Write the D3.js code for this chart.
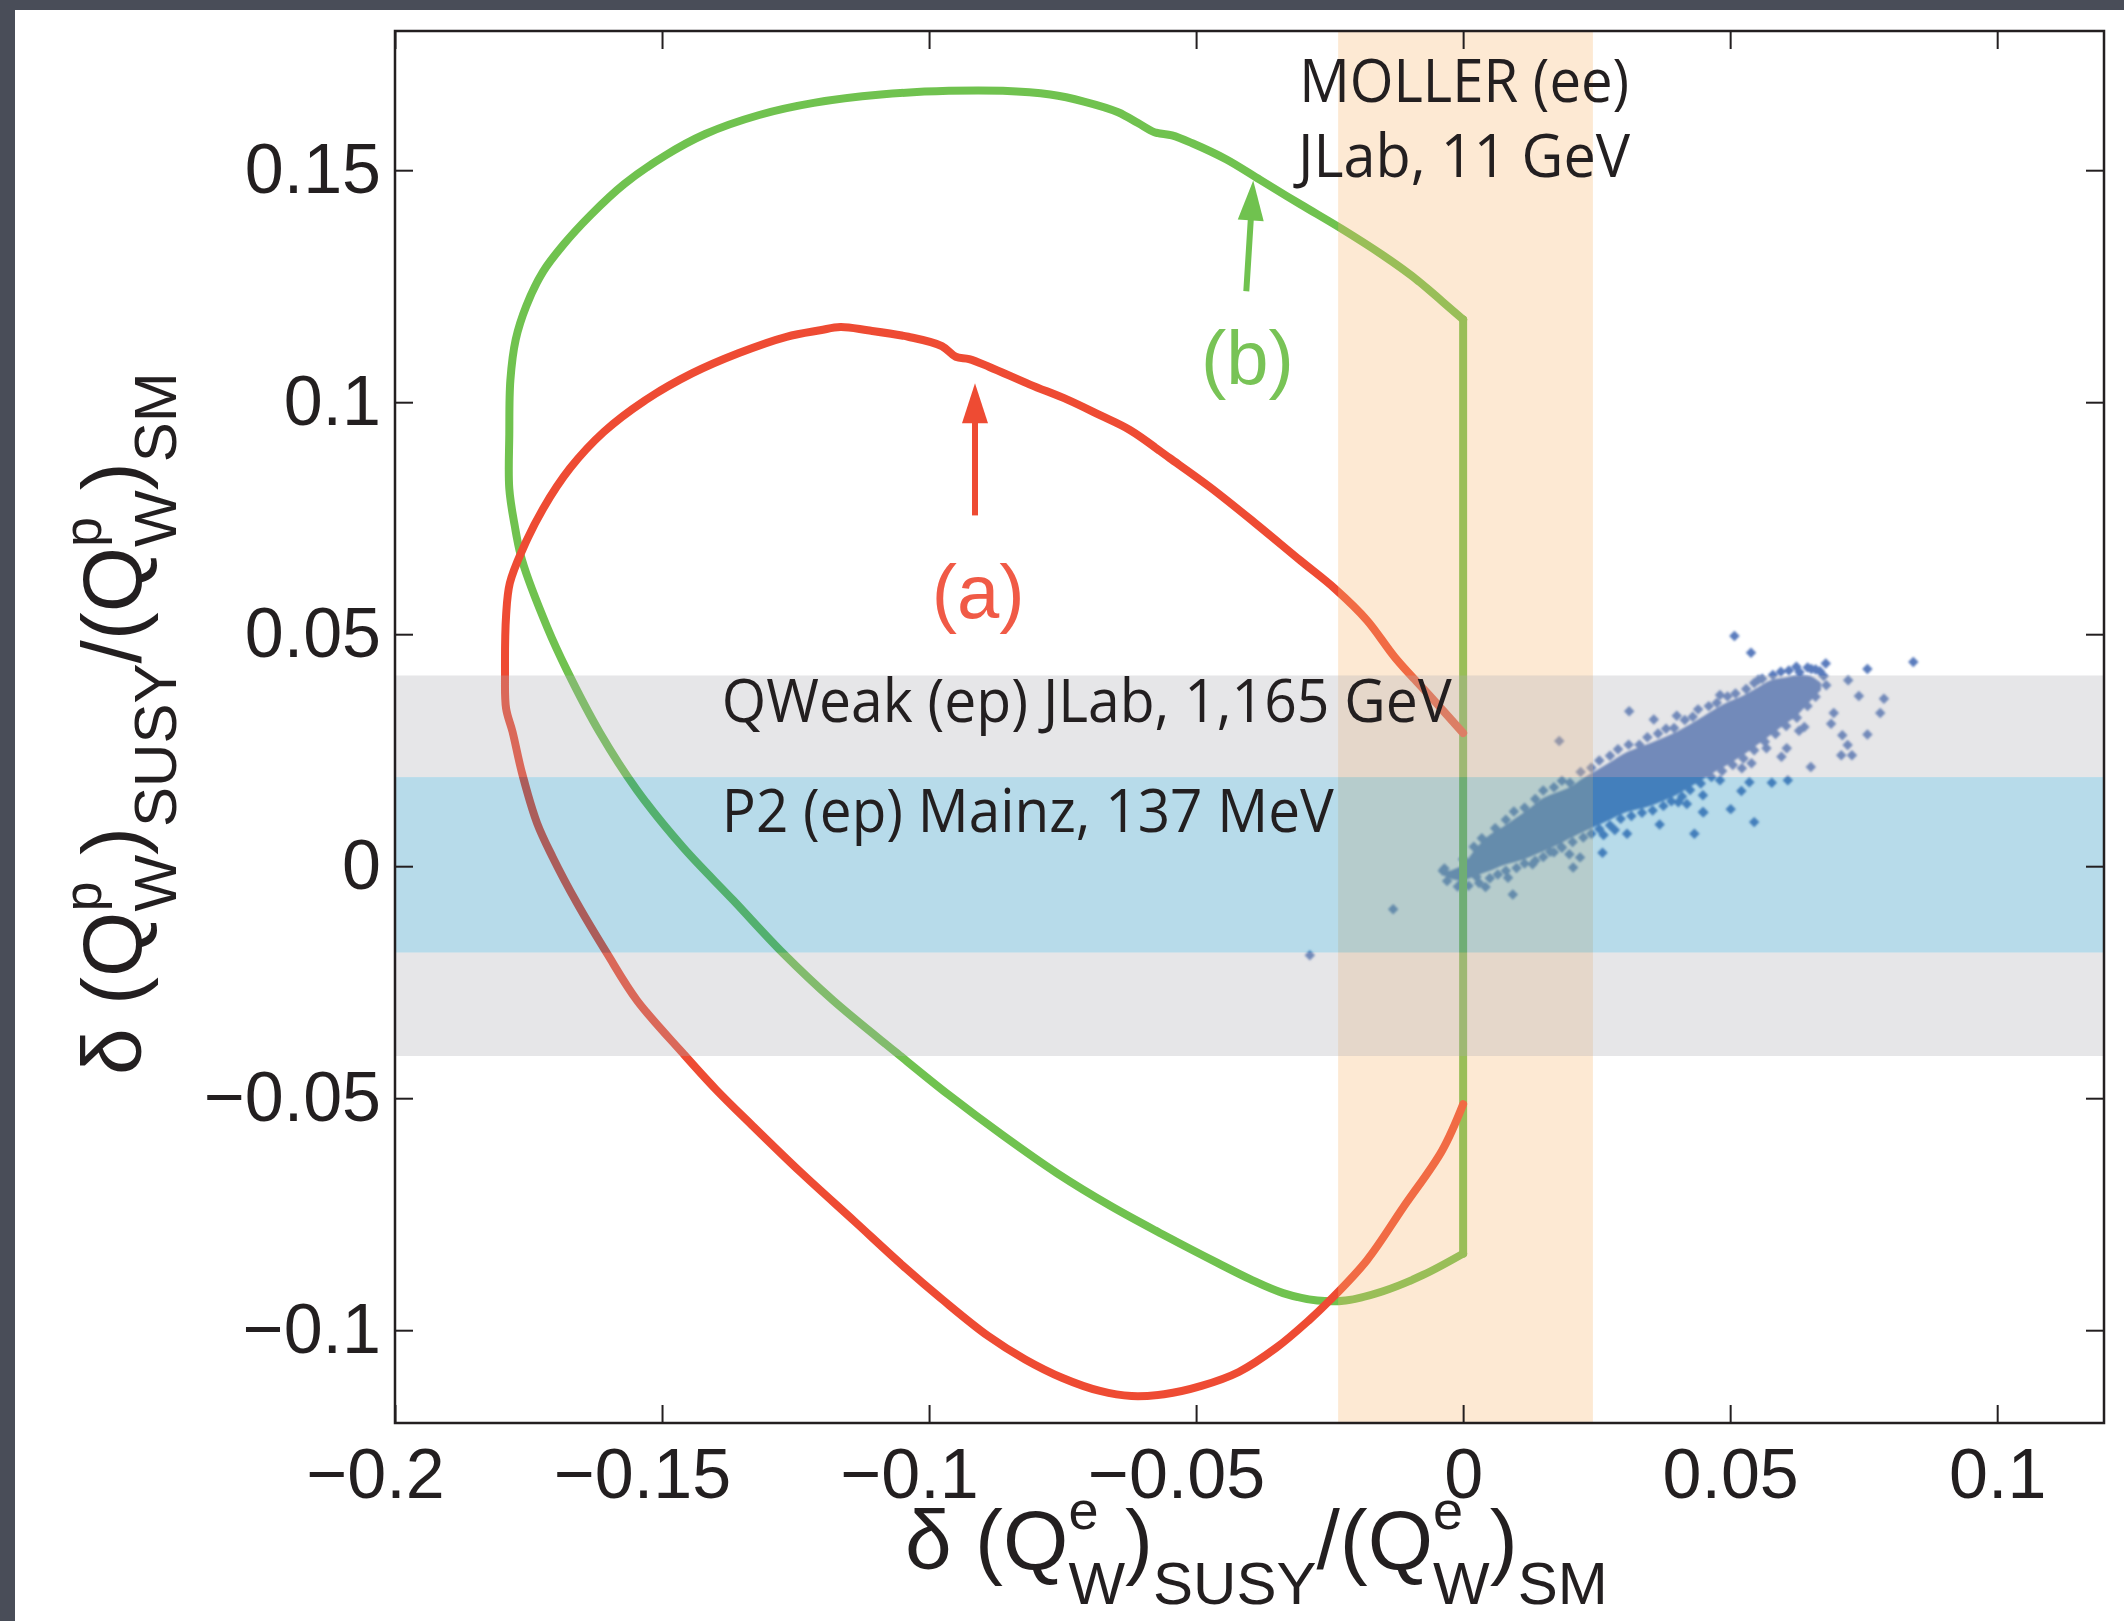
<!DOCTYPE html>
<html><head><meta charset="utf-8">
<script src="https://cdn.jsdelivr.net/npm/d3@7"></script>
<style>html,body{margin:0;padding:0;background:#494d58;} svg{display:block}</style>
</head><body>
<svg id="chart" width="2124" height="1621"></svg>
<script>
// ---------- data ----------
const xTicks = [-0.2, -0.15, -0.1, -0.05, 0, 0.05, 0.1];
const xTickLabels = ["\u22120.2", "\u22120.15", "\u22120.1", "\u22120.05", "0", "0.05", "0.1"];
const yTicks = [-0.1, -0.05, 0, 0.05, 0.1, 0.15];
const yTickLabels = ["\u22120.1", "\u22120.05", "0", "0.05", "0.1", "0.15"];

// experiment bands
const mollerBand = [-0.0234, 0.0243];   // x-range
const qweakBand = [-0.0409, 0.0411];    // y-range
const p2Band = [-0.0186, 0.0192];       // y-range

// curve (a): red contour, open at x = 0
const curveA = [
  [0.0000, 0.0287], [-0.0063, 0.0368], [-0.0127, 0.0449], [-0.0180, 0.0530], [-0.0240, 0.0598],
  [-0.0305, 0.0659], [-0.0390, 0.0740], [-0.0474, 0.0817], [-0.0550, 0.0880], [-0.0624, 0.0940],
  [-0.0680, 0.0972], [-0.0740, 0.1005], [-0.0811, 0.1038], [-0.0887, 0.1076], [-0.0925, 0.1093],
  [-0.0950, 0.1098], [-0.0976, 0.1121], [-0.1039, 0.1141], [-0.1115, 0.1155], [-0.1166, 0.1162],
  [-0.1204, 0.1155], [-0.1267, 0.1141], [-0.1356, 0.1106], [-0.1444, 0.1062], [-0.1533, 0.1003],
  [-0.1609, 0.0936], [-0.1672, 0.0858], [-0.1723, 0.0770], [-0.1761, 0.0683], [-0.1785, 0.0610],
  [-0.1792, 0.0540], [-0.1794, 0.0420], [-0.1792, 0.0340], [-0.1780, 0.0290], [-0.1762, 0.0200],
  [-0.1734, 0.0093], [-0.1705, 0.0020], [-0.1659, -0.0080], [-0.1603, -0.0188], [-0.1547, -0.0289],
  [-0.1461, -0.0403], [-0.1400, -0.0480], [-0.1330, -0.0560], [-0.1240, -0.0660], [-0.1140, -0.0765],
  [-0.1050, -0.0860], [-0.0974, -0.0935], [-0.0890, -0.1012], [-0.0820, -0.1063], [-0.0750, -0.1103],
  [-0.0680, -0.1131], [-0.0621, -0.1142], [-0.0560, -0.1138], [-0.0490, -0.1120], [-0.0420, -0.1090],
  [-0.0350, -0.1038], [-0.0290, -0.0980], [-0.0249, -0.0935], [-0.0180, -0.0849], [-0.0112, -0.0735],
  [-0.0039, -0.0612], [0.0000, -0.0513]
];

// curve (b): green contour, closed by the vertical at x = 0
const curveB = [
  [0.0000, 0.1178], [-0.0038, 0.1216], [-0.0089, 0.1266], [-0.0152, 0.1318], [-0.0228, 0.1374],
  [-0.0304, 0.1426], [-0.0380, 0.1479], [-0.0443, 0.1523], [-0.0507, 0.1558], [-0.0545, 0.1575],
  [-0.0578, 0.1582], [-0.0608, 0.1601], [-0.0646, 0.1625], [-0.0710, 0.1648], [-0.0773, 0.1663],
  [-0.0862, 0.1671], [-0.0963, 0.1671], [-0.1090, 0.1663], [-0.1216, 0.1645], [-0.1318, 0.1619],
  [-0.1419, 0.1578], [-0.1495, 0.1531], [-0.1571, 0.1470], [-0.1634, 0.1403], [-0.1685, 0.1339],
  [-0.1723, 0.1281], [-0.1754, 0.1208], [-0.1774, 0.1135], [-0.1784, 0.1047], [-0.1786, 0.0930],
  [-0.1786, 0.0814], [-0.1776, 0.0735], [-0.1762, 0.0659], [-0.1715, 0.0515], [-0.1678, 0.0422],
  [-0.1616, 0.0287], [-0.1547, 0.0164], [-0.1461, 0.0041], [-0.1367, -0.0073], [-0.1273, -0.0188],
  [-0.1180, -0.0289], [-0.1060, -0.0403], [-0.0963, -0.0493], [-0.0862, -0.0580], [-0.0760, -0.0662],
  [-0.0659, -0.0733], [-0.0557, -0.0797], [-0.0460, -0.0855], [-0.0399, -0.0890], [-0.0337, -0.0920],
  [-0.0273, -0.0936], [-0.0220, -0.0936], [-0.0150, -0.0916], [-0.0075, -0.0881], [0.0000, -0.0835]
];

// dense part of the SUSY scatter: envelope
const coreX =     [-0.0040, -0.0020, 0.0000, 0.0025, 0.0050, 0.0075, 0.0100, 0.0125, 0.0150, 0.0175, 0.0200, 0.0225, 0.0250, 0.0275, 0.0300, 0.0325, 0.0350, 0.0375, 0.0400, 0.0425, 0.0450, 0.0475, 0.0500, 0.0525, 0.0550, 0.0575, 0.0600, 0.0625, 0.0650, 0.0670];
const coreLower = [-0.0018, -0.0028, -0.0030, -0.0020, -0.0010, 0.0002, 0.0010, 0.0020, 0.0032, 0.0045, 0.0060, 0.0074, 0.0087, 0.0100, 0.0114, 0.0122, 0.0130, 0.0141, 0.0154, 0.0171, 0.0188, 0.0206, 0.0222, 0.0240, 0.0261, 0.0282, 0.0304, 0.0325, 0.0356, 0.0380];
const coreUpper = [-0.0012, -0.0008, 0.0004, 0.0040, 0.0068, 0.0085, 0.0105, 0.0125, 0.0147, 0.0159, 0.0170, 0.0190, 0.0207, 0.0224, 0.0242, 0.0254, 0.0265, 0.0277, 0.0290, 0.0306, 0.0323, 0.0341, 0.0356, 0.0368, 0.0384, 0.0400, 0.0406, 0.0411, 0.0410, 0.0395];

// individual SUSY scatter points (edges of the cloud and outliers)
const susyPoints = [
  [0.0508, 0.0496], [0.0539, 0.0460], [0.0843, 0.0440], [0.0757, 0.0425], [0.0679, 0.0437], [0.0624, 0.0430],
  [0.0652, 0.0425], [0.0668, 0.0420], [0.0721, 0.0401], [0.0553, 0.0402], [0.0788, 0.0361], [0.0741, 0.0367],
  [0.0781, 0.0330], [0.0694, 0.0330], [0.0757, 0.0284], [0.0710, 0.0282], [0.0720, 0.0261], [0.0708, 0.0239],
  [0.0728, 0.0239], [0.0651, 0.0214], [0.0608, 0.0185], [0.0578, 0.0180], [0.0536, 0.0181], [0.0521, 0.0162],
  [0.0501, 0.0123], [0.0545, 0.0095], [0.0450, 0.0116], [0.0433, 0.0070], [0.0368, 0.0090], [0.0311, 0.0334],
  [0.0180, 0.0270], [0.0261, 0.0029], [0.0307, 0.0070], [0.0206, -0.0003], [0.0219, 0.0019], [0.0093, -0.0061],
  [0.0084, -0.0025], [0.0042, -0.0045], [0.0130, 0.0004], [-0.0131, -0.0093], [-0.0287, -0.0192], [0.0481, 0.0369],
  [0.0400, 0.0324], [0.0357, 0.0316], [0.0689, 0.0307], [0.0639, 0.0300], [0.0629, 0.0292], [0.0568, 0.0254],
  [0.0596, 0.0236], [0.0606, 0.0254], [0.0522, 0.0211], [0.0540, 0.0222], [0.0481, 0.0185], [0.0449, 0.0153],
  [0.0449, 0.0117], [0.0403, 0.0138], [0.0419, 0.0134], [0.0263, 0.0067], [0.0284, 0.0078], [0.0163, 0.0031],
  [0.0184, 0.0042], [0.0199, 0.0026], [0.0025, -0.0023], [-0.0004, -0.0037], [-0.0038, -0.0010],
  // upper edge of cloud
  [-0.0035, -0.0005], [0.0000, 0.0015], [0.0020, 0.0042], [0.0035, 0.0060], [0.0060, 0.0082], [0.0080, 0.0100],
  [0.0095, 0.0118], [0.0115, 0.0126], [0.0135, 0.0145], [0.0150, 0.0163], [0.0170, 0.0170], [0.0185, 0.0184],
  [0.0200, 0.0180], [0.0220, 0.0203], [0.0240, 0.0212], [0.0255, 0.0228], [0.0275, 0.0238], [0.0290, 0.0252],
  [0.0310, 0.0262], [0.0330, 0.0262], [0.0345, 0.0278], [0.0365, 0.0286], [0.0380, 0.0296], [0.0395, 0.0298],
  [0.0415, 0.0315], [0.0430, 0.0322], [0.0440, 0.0338], [0.0460, 0.0345], [0.0475, 0.0352], [0.0495, 0.0366],
  [0.0510, 0.0372], [0.0530, 0.0382], [0.0545, 0.0395], [0.0560, 0.0404], [0.0580, 0.0412], [0.0595, 0.0419],
  [0.0610, 0.0422], [0.0630, 0.0418], [0.0645, 0.0428], [0.0660, 0.0424], [0.0675, 0.0410],
  // lower edge of cloud
  [-0.0030, -0.0032], [-0.0010, -0.0044], [0.0010, -0.0042], [0.0030, -0.0036], [0.0050, -0.0026], [0.0065, -0.0018],
  [0.0080, -0.0010], [0.0100, -0.0004], [0.0115, 0.0006], [0.0135, 0.0012], [0.0150, 0.0020], [0.0170, 0.0030],
  [0.0185, 0.0040], [0.0205, 0.0052], [0.0225, 0.0062], [0.0240, 0.0070], [0.0255, 0.0080], [0.0275, 0.0088],
  [0.0295, 0.0102], [0.0315, 0.0108], [0.0335, 0.0115], [0.0355, 0.0120], [0.0375, 0.0130], [0.0390, 0.0140],
  [0.0410, 0.0150], [0.0425, 0.0164], [0.0445, 0.0178], [0.0465, 0.0192], [0.0485, 0.0205], [0.0505, 0.0218],
  [0.0525, 0.0232], [0.0545, 0.0250], [0.0565, 0.0268], [0.0585, 0.0285], [0.0605, 0.0302], [0.0625, 0.0320],
  [0.0645, 0.0345], [0.0660, 0.0365], [0.0680, 0.0390]
];

// arrows [from, to] and labels
const arrowA = [[-0.0914, 0.0756], [-0.0914, 0.1041]];
const arrowB = [[-0.0406, 0.1239], [-0.0393, 0.1478]];
const labelA = { text: "(a)", at: [-0.0908, 0.0534] };
const labelB = { text: "(b)", at: [-0.0404, 0.1039] };
const bandLabels = [
  { text: "MOLLER (ee)", at: [-0.0307, 0.1647], len: 330 },
  { text: "JLab, 11 GeV", at: [-0.0309, 0.1485], len: 332 },
  { text: "QWeak (ep) JLab, 1,165 GeV", at: [-0.1388, 0.0310], len: 730 },
  { text: "P2 (ep) Mainz, 137 MeV", at: [-0.1388, 0.0073], len: 612 }
];

// ---------- layout ----------
const W = 2124, H = 1621;
const L = 395, R = 2104, T = 31, B = 1423;
const ink = "#231f20";
const red = "#ee4b33", green = "#70c24f";
const tickFont = "'Liberation Sans', Arial, Helvetica, sans-serif";
const noteFont = "'Open Sans', 'Noto Sans', sans-serif";

const svg = d3.select("#chart");
svg.append("rect").attr("width", W).attr("height", H).attr("fill", "#494d58");
svg.append("rect").attr("x", 15).attr("y", 10).attr("width", W - 15).attr("height", H - 10).attr("fill", "#ffffff");

const x = d3.scaleLinear().domain([-0.2, 0.12]).range([L, R]);
const y = d3.scaleLinear().domain([-0.12, 0.18]).range([B, T]);

const defs = svg.append("defs");
defs.append("clipPath").attr("id", "plotclip").append("rect")
  .attr("x", L).attr("y", T).attr("width", R - L).attr("height", B - T);
defs.append("filter").attr("id", "soft").append("feGaussianBlur").attr("stdDeviation", 0.9);

const plot = svg.append("g").attr("clip-path", "url(#plotclip)");

// scatter
const sc = plot.append("g").attr("filter", "url(#soft)").attr("fill", "#5a7cbd");
sc.append("path")
  .datum(coreX.map((d, i) => i))
  .attr("d", d3.area().x(i => x(coreX[i])).y0(i => y(coreLower[i])).y1(i => y(coreUpper[i])).curve(d3.curveCatmullRom));
sc.selectAll("path.pt").data(susyPoints).join("path").attr("class", "pt")
  .attr("transform", d => `translate(${x(d[0])},${y(d[1])})`)
  .attr("d", d3.symbol(d3.symbolDiamond2, 70)());

// curves
const line = d3.line().x(d => x(d[0])).y(d => y(d[1])).curve(d3.curveCatmullRom.alpha(0.5));
const cg = plot.append("g").attr("fill", "none").attr("stroke-width", 8).attr("stroke-linecap", "round").attr("stroke-linejoin", "round");
cg.append("path").datum(curveB).attr("d", line).attr("stroke", green);
cg.append("path").datum([curveB[curveB.length - 1], curveB[0]]).attr("d", d3.line().x(d => x(d[0])).y(d => y(d[1]))).attr("stroke", green);
cg.append("path").datum(curveA).attr("d", line).attr("stroke", red);

// bands (translucent, over the data)
plot.append("rect").attr("x", x(mollerBand[0])).attr("width", x(mollerBand[1]) - x(mollerBand[0]))
  .attr("y", T).attr("height", B - T).attr("fill", "rgb(248,182,108)").attr("fill-opacity", 0.3);
plot.append("rect").attr("x", L).attr("width", R - L)
  .attr("y", y(qweakBand[1])).attr("height", y(p2Band[1]) - y(qweakBand[1])).attr("fill", "rgb(172,172,178)").attr("fill-opacity", 0.3);
plot.append("rect").attr("x", L).attr("width", R - L)
  .attr("y", y(p2Band[0])).attr("height", y(qweakBand[0]) - y(p2Band[0])).attr("fill", "rgb(172,172,178)").attr("fill-opacity", 0.3);
plot.append("rect").attr("x", L).attr("width", R - L)
  .attr("y", y(p2Band[1])).attr("height", y(p2Band[0]) - y(p2Band[1])).attr("fill", "rgb(15,135,185)").attr("fill-opacity", 0.3);

// arrows
function arrow(a, color) {
  const x0 = x(a[0][0]), y0 = y(a[0][1]), x1 = x(a[1][0]), y1 = y(a[1][1]);
  const dx = x1 - x0, dy = y1 - y0, len = Math.hypot(dx, dy);
  const ux = dx / len, uy = dy / len, hl = 40, hw = 13;
  const bx = x1 - ux * hl, by = y1 - uy * hl;
  svg.append("line").attr("x1", x0).attr("y1", y0).attr("x2", bx + ux * 2).attr("y2", by + uy * 2)
    .attr("stroke", color).attr("stroke-width", 6);
  svg.append("path").attr("d", `M${x1},${y1}L${bx - uy * hw},${by + ux * hw}L${bx + uy * hw},${by - ux * hw}Z`).attr("fill", color);
}
arrow(arrowA, red);
arrow(arrowB, green);

[[labelA, "#f05a46"], [labelB, "#78c356"]].forEach(([lb, c]) => {
  svg.append("text").attr("x", x(lb.at[0])).attr("y", y(lb.at[1])).attr("text-anchor", "middle")
    .attr("font-family", tickFont).attr("font-size", 76).attr("fill", c).text(lb.text);
});

// band labels
bandLabels.forEach(b => {
  svg.append("text").attr("x", x(b.at[0])).attr("y", y(b.at[1]))
    .attr("font-family", noteFont).attr("font-size", 60).attr("fill", ink)
    .attr("textLength", b.len).attr("lengthAdjust", "spacingAndGlyphs").text(b.text);
});

// axes
function styleAxis(g) {
  g.select(".domain").remove();
  g.selectAll(".tick line").attr("stroke", ink).attr("stroke-width", 2);
  g.selectAll(".tick text").attr("font-family", tickFont).attr("font-size", 70).attr("fill", ink);
}
const gx = svg.append("g").attr("transform", `translate(0,${B})`)
  .call(d3.axisBottom(x).tickValues(xTicks).tickFormat((d, i) => xTickLabels[i]).tickSizeInner(-18).tickSizeOuter(0).tickPadding(25));
styleAxis(gx);
gx.selectAll(".tick text").attr("dx", d => d < 0 ? -20 : 0);
const gy = svg.append("g").attr("transform", `translate(${L},0)`)
  .call(d3.axisLeft(y).tickValues(yTicks).tickFormat((d, i) => yTickLabels[i]).tickSizeInner(-18).tickSizeOuter(0).tickPadding(14));
styleAxis(gy);
const gt = svg.append("g").attr("transform", `translate(0,${T})`)
  .call(d3.axisTop(x).tickValues(xTicks).tickFormat(() => "").tickSizeInner(-18).tickSizeOuter(0));
styleAxis(gt);
const gr = svg.append("g").attr("transform", `translate(${R},0)`)
  .call(d3.axisRight(y).tickValues(yTicks).tickFormat(() => "").tickSizeInner(-18).tickSizeOuter(0));
styleAxis(gr);

svg.append("rect").attr("x", L).attr("y", T).attr("width", R - L).attr("height", B - T)
  .attr("fill", "none").attr("stroke", ink).attr("stroke-width", 2.5);

// axis titles
function axisTitle(sel, sup) {
  const M = 84, S = 60, P = 54, eW = P * 0.556;
  sel.attr("font-family", tickFont).attr("fill", ink);
  const parts = [
    ["\u03b4 (Q", M, 0, 0], [sup, P, -40, 0], ["W", S, 75, -eW], [")", M, -35, 0], ["SUSY", S, 35, 0],
    ["/(Q", M, -35, 0], [sup, P, -40, 0], ["W", S, 75, -eW], [")", M, -35, 0], ["SM", S, 35, 0]
  ];
  parts.forEach(p => {
    sel.append("tspan").attr("font-size", p[1]).attr("dy", p[2]).attr("dx", p[3]).text(p[0]);
  });
}
axisTitle(svg.append("text").attr("x", 905).attr("y", 1569), "e");
axisTitle(svg.append("text").attr("transform", "translate(141,1075) rotate(-90)"), "p");
</script>
</body></html>
